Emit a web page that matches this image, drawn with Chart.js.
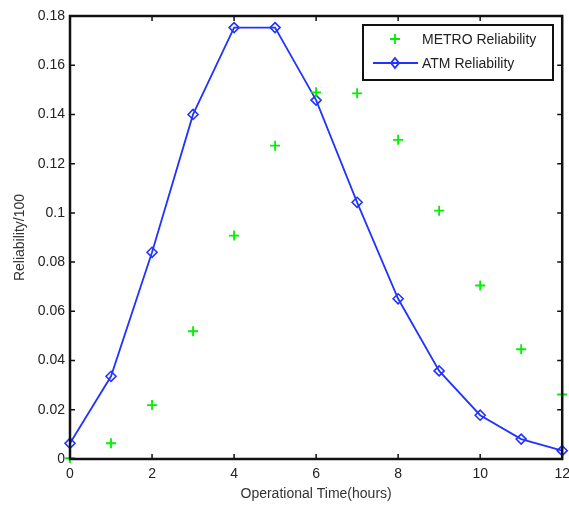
<!DOCTYPE html>
<html>
<head>
<meta charset="utf-8">
<script src="https://cdn.jsdelivr.net/npm/chart.js@4/dist/chart.umd.min.js"></script>
<style>
  html, body { margin: 0; padding: 0; background: #fff; }
  #wrap { width: 569px; height: 509px; }
</style>
</head>
<body>
<div id="wrap"><canvas id="relChart"></canvas></div>
<script>
// operational time in hours
const hours = [0, 1, 2, 3, 4, 5, 6, 7, 8, 9, 10, 11, 12];
const metroReliability = [0.0003, 0.0064, 0.0219, 0.0519, 0.0908, 0.1273, 0.1490, 0.1486, 0.1297, 0.1009, 0.0705, 0.0446, 0.0262];
const atmReliability = [0.0064, 0.0336, 0.0840, 0.1400, 0.1753, 0.1753, 0.1458, 0.1043, 0.0651, 0.0358, 0.0178, 0.0081, 0.0034];
const xTicks = [0, 2, 4, 6, 8, 10, 12];
const yTicks = [0, 0.02, 0.04, 0.06, 0.08, 0.1, 0.12, 0.14, 0.16, 0.18];

const FONT = "'Liberation Sans', Arial, sans-serif";
const green = '#00f000';
const blue = '#2233ff';

// frame, inward ticks and the boxed legend (like the matlab figure)
const framePlugin = {
  id: 'frame',
  afterDraw(chart) {
    const ctx = chart.ctx;
    const a = chart.chartArea;
    const xs = chart.scales.x, ys = chart.scales.y;
    ctx.save();
    ctx.strokeStyle = '#111';
    ctx.lineWidth = 1.5;
    xTicks.forEach(t => {
      const px = xs.getPixelForValue(t);
      ctx.beginPath();
      ctx.moveTo(px, a.bottom); ctx.lineTo(px, a.bottom - 5);
      ctx.moveTo(px, a.top); ctx.lineTo(px, a.top + 5);
      ctx.stroke();
    });
    yTicks.forEach(t => {
      const py = ys.getPixelForValue(t);
      ctx.beginPath();
      ctx.moveTo(a.left, py); ctx.lineTo(a.left + 5, py);
      ctx.moveTo(a.right, py); ctx.lineTo(a.right - 5, py);
      ctx.stroke();
    });
    ctx.lineWidth = 2.5;
    ctx.strokeRect(a.left, a.top, a.right - a.left, a.bottom - a.top);

    // legend
    const lx = 363, ly = 25, lw = 190, lh = 55;
    ctx.fillStyle = '#fff';
    ctx.fillRect(lx, ly, lw, lh);
    ctx.lineWidth = 2;
    ctx.strokeStyle = '#111';
    ctx.strokeRect(lx, ly, lw, lh);

    const mx = 395;
    // METRO row
    let ry = 39;
    ctx.strokeStyle = green;
    ctx.lineWidth = 1.8;
    ctx.beginPath();
    ctx.moveTo(mx - 5, ry); ctx.lineTo(mx + 5, ry);
    ctx.moveTo(mx, ry - 5); ctx.lineTo(mx, ry + 5);
    ctx.stroke();
    // ATM row
    ry = 63;
    ctx.strokeStyle = blue;
    ctx.beginPath();
    ctx.moveTo(373, ry); ctx.lineTo(418, ry);
    ctx.stroke();
    ctx.beginPath();
    ctx.moveTo(mx, ry - 5); ctx.lineTo(mx + 4, ry); ctx.lineTo(mx, ry + 5); ctx.lineTo(mx - 4, ry);
    ctx.closePath();
    ctx.stroke();

    ctx.fillStyle = '#222';
    ctx.font = '14px ' + FONT;
    ctx.textBaseline = 'middle';
    ctx.textAlign = 'left';
    ctx.fillText('METRO Reliability', 422, 40);
    ctx.fillText('ATM Reliability', 422, 64);
    ctx.restore();
  }
};

const canvas = document.getElementById('relChart');
new Chart(canvas, {
  type: 'scatter',
  data: {
    datasets: [
      {
        label: 'METRO Reliability',
        data: hours.map((h, i) => ({ x: h, y: metroReliability[i] })),
        showLine: false,
        pointStyle: 'cross',
        pointRadius: 5,
        borderColor: green,
        borderWidth: 1.8,
      },
      {
        label: 'ATM Reliability',
        data: hours.map((h, i) => ({ x: h, y: atmReliability[i] })),
        showLine: true,
        pointStyle: 'rectRot',
        pointRadius: 5,
        borderColor: blue,
        backgroundColor: 'rgba(0,0,0,0)',
        borderWidth: 1.8,
        pointBorderWidth: 1.6,
      }
    ]
  },
  options: {
    responsive: true,
    maintainAspectRatio: false,
    animation: false,
    clip: false,
    layout: { padding: { left: 12, right: 6, top: 16, bottom: 6 } },
    plugins: {
      legend: { display: false },
      tooltip: { enabled: false },
    },
    scales: {
      x: {
        type: 'linear',
        min: 0,
        max: 12,
        afterBuildTicks: s => { s.ticks = xTicks.map(v => ({ value: v })); },
        afterFit: s => { s.height = 44; s.paddingLeft = 0; s.paddingRight = 0; },
        grid: { display: false, drawTicks: false },
        border: { display: false },
        ticks: {
          color: '#222',
          padding: 7,
          maxRotation: 0,
          font: { family: FONT, size: 14 },
        },
        title: {
          display: true,
          text: 'Operational Time(hours)',
          color: '#333',
          padding: 0,
          font: { family: FONT, size: 14 },
        },
      },
      y: {
        min: 0,
        max: 0.18,
        afterBuildTicks: s => { s.ticks = yTicks.map(v => ({ value: v })); },
        afterFit: s => { s.width = 58; s.paddingTop = 0; s.paddingBottom = 0; },
        grid: { display: false, drawTicks: false },
        border: { display: false },
        ticks: {
          color: '#222',
          padding: 5,
          font: { family: FONT, size: 14 },
          callback: v => String(+v.toFixed(2)),
        },
        title: {
          display: true,
          text: 'Reliability/100',
          color: '#333',
          padding: 0,
          font: { family: FONT, size: 14 },
        },
      },
    },
  },
  plugins: [framePlugin],
});
</script>
</body>
</html>
